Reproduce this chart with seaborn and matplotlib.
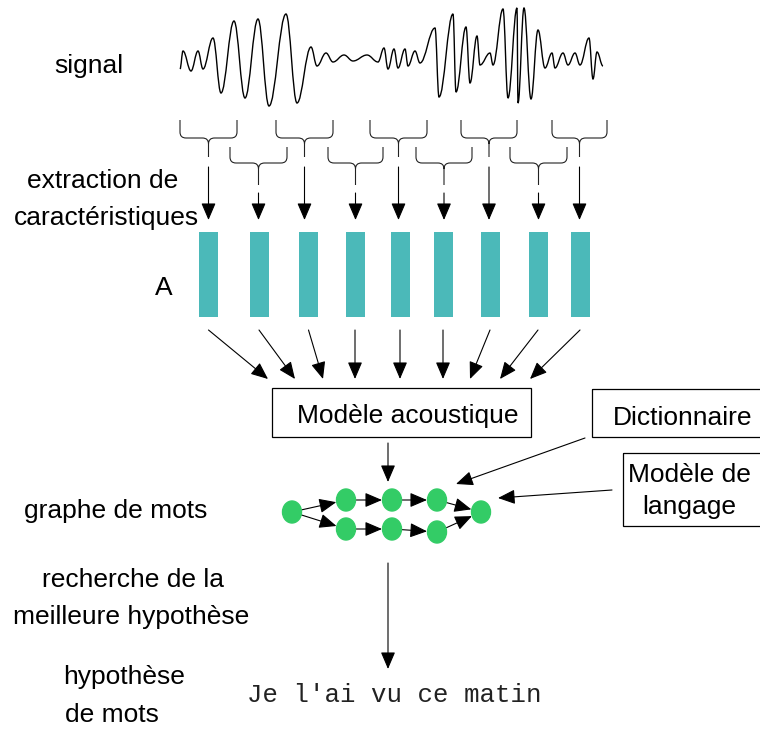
import matplotlib
matplotlib.use("Agg")
import matplotlib.pyplot as plt
import seaborn as sns
import numpy as np
from matplotlib.path import Path
from matplotlib.patches import PathPatch, Ellipse, Rectangle, FancyArrowPatch

# waveform extrema (x, y in pixels of the picture)
wave_x = [180, 183, 191, 198, 203, 213, 221, 234, 245, 258, 269, 286, 297, 311, 317,
          326, 333, 344, 353, 367, 378, 384, 388, 394, 398, 405, 408, 415, 420, 435,
          439, 453, 456, 466, 470, 477, 480, 490, 493, 503, 508, 517, 518, 524, 531,
          538, 545, 552, 555, 563, 568, 575, 580, 589, 593, 597, 603]
wave_y = [69, 51, 71, 51, 69, 38, 93, 21, 98, 19, 106, 14, 103, 47, 66,
          53, 62, 55, 61, 55, 62, 48, 69, 49, 68, 49, 66, 51, 63, 28,
          97, 14, 92, 27, 83, 36, 65, 53, 65, 9, 98, 8, 103, 8, 99,
          30, 68, 53, 68, 53, 65, 53, 65, 38, 79, 52, 66]

# braces grouping the signal into frames: (left, right)
brace_top = [(180, 237), (276, 333), (370, 427), (461, 517), (552, 607)]
brace_bottom = [(230, 287), (328, 383), (416, 472), (510, 567)]

# feature vectors
bar_x = [208.5, 259, 308.5, 355, 400, 443, 490, 538, 580]
bar_top, bar_bottom = 232, 317
# where the feature arrows reach the acoustic model
model_x = [268, 295, 323, 355, 400, 443, 470, 500, 530]

# word graph
node_names = ["A", "B", "C", "D", "E", "F", "G", "H"]
node_x = [292, 346, 392, 437, 481, 346, 392, 437]
node_y = [512, 500, 500, 500, 512, 529, 529, 532]
edges = [("A", "B"), ("A", "F"), ("B", "C"), ("C", "D"), ("D", "E"),
         ("F", "G"), ("G", "H"), ("H", "E")]

left_labels = [
    ("signal", 89, 66),
    ("extraction de", 103, 181),
    ("caractéristiques", 106, 218),
    ("A", 164, 288),
    ("graphe de mots", 116, 511),
    ("recherche de la", 133, 580),
    ("meilleure hypothèse", 131, 617),
    ("hypothèse", 124, 677),
    ("de mots", 112, 715),
]
hypothesis = "Je l'ai vu ce matin"

sns.set_theme(style="white")
plt.rcParams['font.family'] = ['Liberation Sans', 'DejaVu Sans']
plt.rcParams['text.color'] = 'black'

fig = plt.figure(figsize=(7.6, 7.31), dpi=100)
ax = fig.add_axes([0, 0, 1, 1])
ax.set_xlim(0, 760)
ax.set_ylim(731, 0)
ax.axis("off")

FS = 19
TEAL = "#4bb9b9"
GREEN = "#33cc66"


def arrow(x0, y0, x1, y1):
    a = FancyArrowPatch((x0, y0), (x1, y1),
                        arrowstyle="-|>,head_length=0.75,head_width=0.32",
                        mutation_scale=14, color="black", lw=0.8,
                        shrinkA=0, shrinkB=0)
    ax.add_patch(a)


# signal: smooth curve through extrema (horizontal tangents)
verts = [(wave_x[0], wave_y[0])]
codes = [Path.MOVETO]
for i in range(1, len(wave_x)):
    x0, y0 = wave_x[i - 1], wave_y[i - 1]
    x1, y1 = wave_x[i], wave_y[i]
    dx = (x1 - x0) / 2.6
    verts += [(x0 + dx, y0), (x1 - dx, y1), (x1, y1)]
    codes += [Path.CURVE4] * 3
ax.add_patch(PathPatch(Path(verts, codes), fill=False, lw=1.0, ec="black"))


def brace(xl, xr, y0, y1, y2, r=6):
    xc = (xl + xr) / 2
    v = [(xl, y0), (xl, y1 - r), (xl, y1), (xl + r, y1), (xc - r, y1), (xc, y1), (xc, y1 + r), (xc, y2),
         (xr, y0), (xr, y1 - r), (xr, y1), (xr - r, y1), (xc + r, y1), (xc, y1), (xc, y1 + r)]
    c = [Path.MOVETO, Path.LINETO, Path.CURVE3, Path.CURVE3, Path.LINETO, Path.CURVE3, Path.CURVE3, Path.LINETO,
         Path.MOVETO, Path.LINETO, Path.CURVE3, Path.CURVE3, Path.LINETO, Path.CURVE3, Path.CURVE3]
    ax.add_patch(PathPatch(Path(v, c), fill=False, lw=0.8, ec="#222222"))
    return xc


for xl, xr in brace_top:
    xc = brace(xl, xr, 120, 138, 157)
    arrow(xc, 167, xc, 220)
for xl, xr in brace_bottom:
    xc = brace(xl, xr, 147, 163, 185)
    arrow(xc, 193, xc, 220)

# feature bars
ax.bar(bar_x, bar_bottom - bar_top, bottom=bar_top, width=19, color=TEAL, linewidth=0)
for bx, mx in zip(bar_x, model_x):
    arrow(bx, 330, mx, 379)

# boxes
ax.add_patch(Rectangle((272, 388), 259, 49, fill=False, ec="black", lw=0.9))
ax.text(408, 416, "Modèle acoustique", fontsize=FS, ha="center", va="center")
ax.add_patch(Rectangle((592, 389), 175, 48, fill=False, ec="black", lw=0.9))
ax.text(683, 418, "Dictionnaire", fontsize=FS, ha="center", va="center")
ax.add_patch(Rectangle((623, 453), 145, 73, fill=False, ec="black", lw=0.9))
ax.text(689, 475, "Modèle de", fontsize=FS, ha="center", va="center")
ax.text(689, 507, "langage", fontsize=FS, ha="center", va="center")

arrow(388, 443, 388, 482)
arrow(585, 438, 456, 484)
arrow(612, 490, 498, 498)

# word graph
pos = {n: (x, y) for n, x, y in zip(node_names, node_x, node_y)}
for a, b in edges:
    (x0, y0), (x1, y1) = pos[a], pos[b]
    d = np.hypot(x1 - x0, y1 - y0)
    ux, uy = (x1 - x0) / d, (y1 - y0) / d
    arrow(x0 + ux * 8, y0 + uy * 8, x1 - ux * 10, y1 - uy * 10)
for n in node_names:
    ax.add_patch(Ellipse(pos[n], 19, 22, color=GREEN, zorder=3))

arrow(388, 563, 388, 669)
ax.text(394, 695, hypothesis, fontsize=18.5, family="Liberation Mono", ha="center", va="center",
        color="#222222")

for txt, x, y in left_labels:
    ax.text(x, y, txt, fontsize=FS, ha="center", va="center")

fig.savefig("out.png", dpi=100)
